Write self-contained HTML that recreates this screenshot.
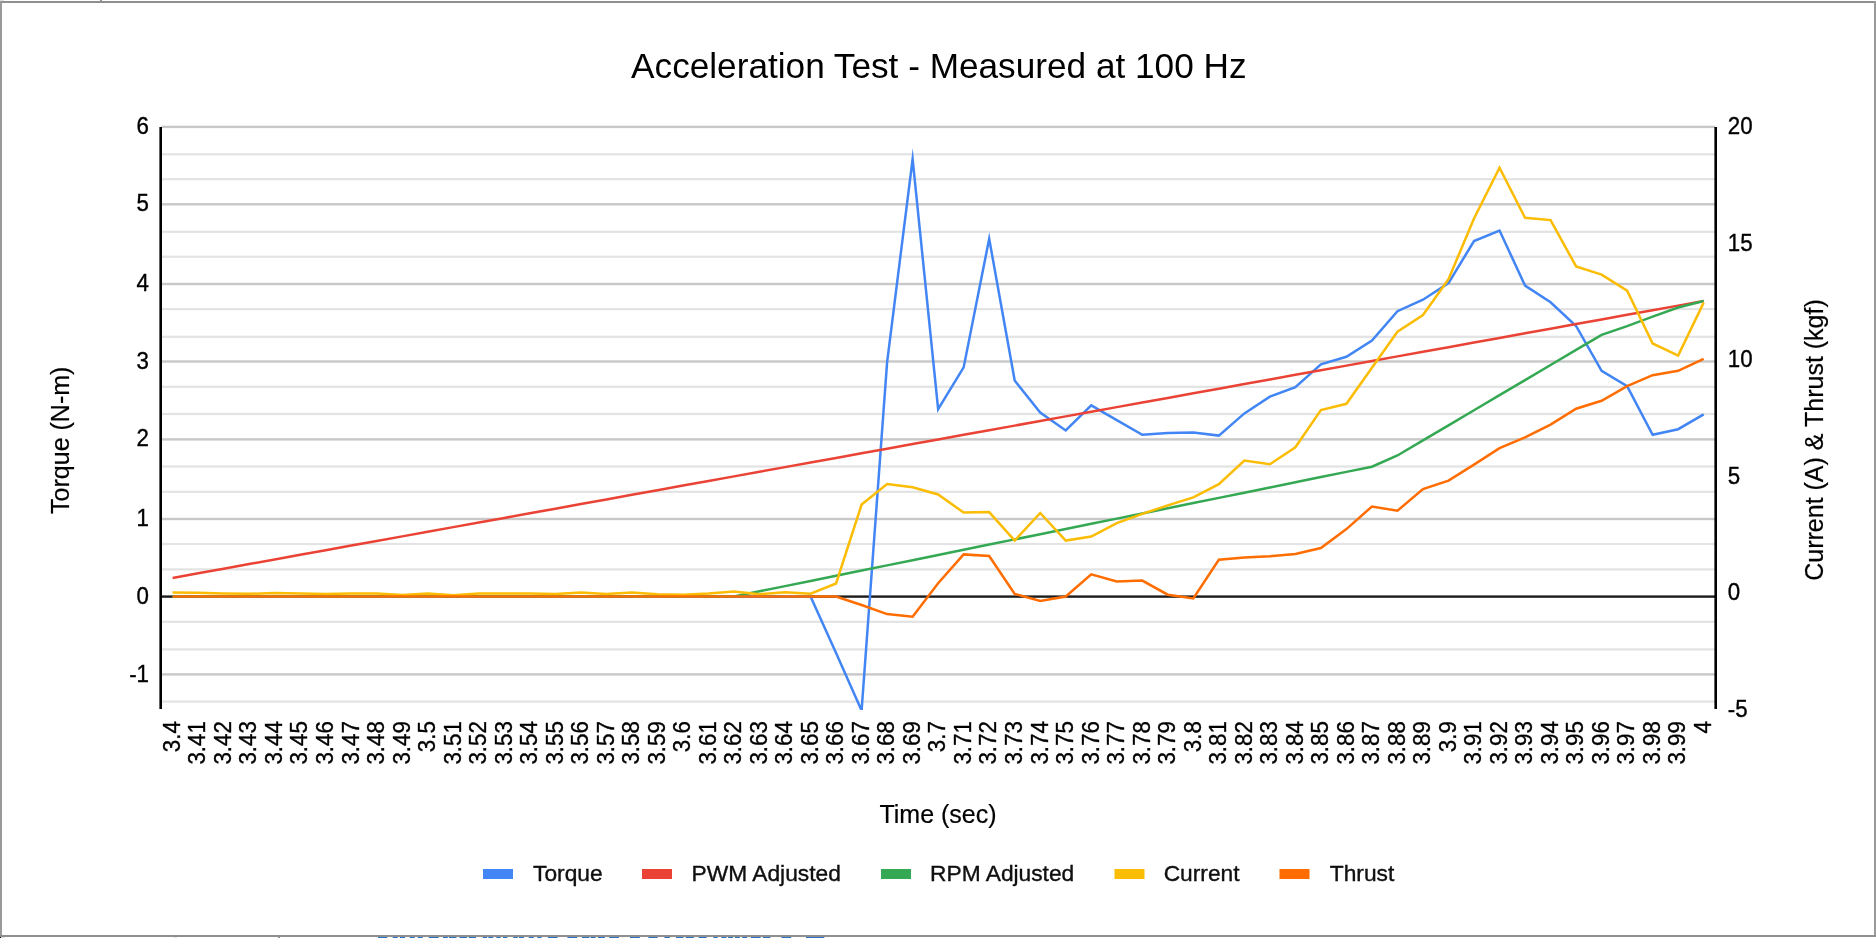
<!DOCTYPE html>
<html><head><meta charset="utf-8"><title>Acceleration Test - Measured at 100 Hz</title>
<style>
html,body{margin:0;padding:0;background:#fff;overflow:hidden}
svg{display:block;will-change:transform}
text{font-family:"Liberation Sans",sans-serif}
.b{stroke:currentColor;stroke-width:0.35px}
.b2{stroke:#000;stroke-width:0.2px}
</style></head><body>
<svg width="1876" height="938" viewBox="0 0 1876 938">
<rect x="0" y="0" width="1876" height="938" fill="#ffffff"/>

<rect x="161.5" y="153.20" width="1553.5" height="2.2" fill="#e3e3e3"/>
<rect x="161.5" y="178.10" width="1553.5" height="2.2" fill="#e3e3e3"/>
<rect x="161.5" y="230.70" width="1553.5" height="2.2" fill="#e3e3e3"/>
<rect x="161.5" y="255.60" width="1553.5" height="2.2" fill="#e3e3e3"/>
<rect x="161.5" y="308.00" width="1553.5" height="2.2" fill="#e3e3e3"/>
<rect x="161.5" y="335.70" width="1553.5" height="2.2" fill="#e3e3e3"/>
<rect x="161.5" y="385.70" width="1553.5" height="2.2" fill="#e3e3e3"/>
<rect x="161.5" y="412.90" width="1553.5" height="2.2" fill="#e3e3e3"/>
<rect x="161.5" y="465.40" width="1553.5" height="2.2" fill="#e3e3e3"/>
<rect x="161.5" y="490.70" width="1553.5" height="2.2" fill="#e3e3e3"/>
<rect x="161.5" y="542.90" width="1553.5" height="2.2" fill="#e3e3e3"/>
<rect x="161.5" y="568.30" width="1553.5" height="2.2" fill="#e3e3e3"/>
<rect x="161.5" y="620.70" width="1553.5" height="2.2" fill="#e3e3e3"/>
<rect x="161.5" y="648.30" width="1553.5" height="2.2" fill="#e3e3e3"/>
<rect x="161.5" y="700.50" width="1553.5" height="2.2" fill="#e3e3e3"/>
<rect x="161.5" y="125.70" width="1553.5" height="2.4" fill="#c8c8c8"/>
<rect x="161.5" y="203.10" width="1553.5" height="2.4" fill="#c8c8c8"/>
<rect x="161.5" y="282.80" width="1553.5" height="2.4" fill="#c8c8c8"/>
<rect x="161.5" y="360.30" width="1553.5" height="2.4" fill="#c8c8c8"/>
<rect x="161.5" y="438.20" width="1553.5" height="2.4" fill="#c8c8c8"/>
<rect x="161.5" y="517.80" width="1553.5" height="2.4" fill="#c8c8c8"/>
<rect x="161.5" y="673.20" width="1553.5" height="2.4" fill="#c8c8c8"/>
<rect x="161.5" y="595.4" width="1553.5" height="2.4" fill="#1c1c1c"/>
<rect x="159.4" y="127.0" width="2.6" height="582.0" fill="#000"/>
<rect x="1714.4" y="127.0" width="2.6" height="582.0" fill="#000"/>
<defs><clipPath id="pa"><rect x="150" y="120" width="1580" height="590"/></clipPath></defs>
<g clip-path="url(#pa)" fill="none" stroke-width="2.5" stroke-linejoin="miter" stroke-miterlimit="10" stroke-linecap="butt">
<polyline stroke="#4285f4" points="172.60,596.50 198.12,596.50 223.64,596.50 249.15,596.50 274.67,596.50 300.19,596.50 325.71,596.50 351.23,596.50 376.74,596.50 402.26,596.50 427.78,596.50 453.30,596.50 478.82,596.50 504.33,596.50 529.85,596.50 555.37,596.50 580.89,596.50 606.41,596.50 631.92,596.50 657.44,596.50 682.96,596.50 708.48,596.50 734.00,596.50 759.51,596.50 785.03,596.50 810.55,596.50 836.07,653.00 861.59,710.50 887.10,362.30 912.62,159.00 938.14,409.20 963.66,367.40 989.18,238.80 1014.69,380.50 1040.21,412.50 1065.73,430.50 1091.25,405.40 1116.77,420.10 1142.28,434.80 1167.80,432.90 1193.32,432.40 1218.84,435.60 1244.36,413.40 1269.87,396.70 1295.39,387.20 1320.91,364.40 1346.43,356.80 1371.95,340.60 1397.46,311.20 1422.98,299.70 1448.50,283.10 1474.02,241.00 1499.54,230.50 1525.05,285.60 1550.57,302.30 1576.09,326.00 1601.61,370.80 1627.13,386.20 1652.64,434.80 1678.16,429.20 1703.68,414.30"/>
<polyline stroke="#ea4335" points="172.60,577.90 198.12,573.28 223.64,568.67 249.15,564.05 274.67,559.44 300.19,554.82 325.71,550.21 351.23,545.60 376.74,540.98 402.26,536.37 427.78,531.75 453.30,527.13 478.82,522.52 504.33,517.90 529.85,513.29 555.37,508.67 580.89,504.06 606.41,499.44 631.92,494.83 657.44,490.21 682.96,485.60 708.48,480.99 734.00,476.37 759.51,471.75 785.03,467.14 810.55,462.52 836.07,457.91 861.59,453.29 887.10,448.68 912.62,444.06 938.14,439.45 963.66,434.83 989.18,430.22 1014.69,425.61 1040.21,420.99 1065.73,416.38 1091.25,411.76 1116.77,407.14 1142.28,402.53 1167.80,397.91 1193.32,393.30 1218.84,388.68 1244.36,384.07 1269.87,379.45 1295.39,374.84 1320.91,370.23 1346.43,365.61 1371.95,361.00 1397.46,356.38 1422.98,351.76 1448.50,347.15 1474.02,342.53 1499.54,337.92 1525.05,333.31 1550.57,328.69 1576.09,324.08 1601.61,319.46 1627.13,314.84 1652.64,310.23 1678.16,305.62 1703.68,301.00"/>
<polyline stroke="#34a853" points="172.60,596.50 198.12,596.50 223.64,596.50 249.15,596.50 274.67,596.50 300.19,596.50 325.71,596.50 351.23,596.50 376.74,596.50 402.26,596.50 427.78,596.50 453.30,596.50 478.82,596.50 504.33,596.50 529.85,596.50 555.37,596.50 580.89,596.50 606.41,596.50 631.92,596.50 657.44,596.50 682.96,596.50 708.48,596.50 734.00,596.50 759.51,591.31 785.03,586.12 810.55,580.92 836.07,575.73 861.59,570.54 887.10,565.35 912.62,560.16 938.14,554.96 963.66,549.77 989.18,544.58 1014.69,539.39 1040.21,534.20 1065.73,529.00 1091.25,523.81 1116.77,518.62 1142.28,513.43 1167.80,508.24 1193.32,503.04 1218.84,497.85 1244.36,492.66 1269.87,487.47 1295.39,482.28 1320.91,477.08 1346.43,471.89 1371.95,466.70 1397.46,455.50 1422.98,440.41 1448.50,425.32 1474.02,410.24 1499.54,395.15 1525.05,380.06 1550.57,364.98 1576.09,349.89 1601.61,334.80 1627.13,326.10 1652.64,316.60 1678.16,307.50 1703.68,301.00"/>
<polyline stroke="#fbbc04" points="172.60,592.40 198.12,592.70 223.64,593.40 249.15,593.80 274.67,592.90 300.19,593.60 325.71,594.00 351.23,593.60 376.74,593.40 402.26,595.10 427.78,593.60 453.30,595.30 478.82,593.60 504.33,593.40 529.85,593.40 555.37,594.00 580.89,592.40 606.41,594.00 631.92,592.40 657.44,594.30 682.96,594.80 708.48,593.50 734.00,591.60 759.51,594.20 785.03,592.20 810.55,593.70 836.07,583.50 861.59,504.60 887.10,484.10 912.62,487.30 938.14,494.50 963.66,512.60 989.18,512.10 1014.69,540.60 1040.21,513.00 1065.73,540.60 1091.25,536.60 1116.77,523.20 1142.28,513.90 1167.80,505.40 1193.32,497.40 1218.84,484.10 1244.36,460.60 1269.87,464.30 1295.39,447.30 1320.91,410.00 1346.43,403.80 1371.95,367.80 1397.46,331.70 1422.98,315.00 1448.50,279.20 1474.02,218.50 1499.54,167.70 1525.05,217.80 1550.57,220.10 1576.09,266.40 1601.61,274.60 1627.13,290.70 1652.64,343.50 1678.16,355.60 1703.68,302.60"/>
<polyline stroke="#ff6d01" points="172.60,596.50 198.12,596.50 223.64,596.50 249.15,596.50 274.67,596.50 300.19,596.50 325.71,596.50 351.23,596.50 376.74,596.50 402.26,596.50 427.78,596.50 453.30,596.50 478.82,596.50 504.33,596.50 529.85,596.50 555.37,596.50 580.89,596.50 606.41,596.50 631.92,596.50 657.44,596.50 682.96,596.50 708.48,596.50 734.00,596.50 759.51,596.50 785.03,596.50 810.55,596.50 836.07,596.50 861.59,605.00 887.10,614.10 912.62,616.80 938.14,583.20 963.66,554.40 989.18,556.00 1014.69,593.90 1040.21,601.00 1065.73,596.50 1091.25,574.40 1116.77,581.40 1142.28,580.60 1167.80,594.70 1193.32,598.40 1218.84,559.80 1244.36,557.40 1269.87,556.20 1295.39,553.90 1320.91,548.00 1346.43,529.10 1371.95,506.50 1397.46,510.70 1422.98,489.10 1448.50,480.60 1474.02,464.60 1499.54,448.10 1525.05,437.40 1550.57,424.60 1576.09,408.70 1601.61,400.80 1627.13,386.20 1652.64,375.20 1678.16,370.80 1703.68,358.80"/>
</g>
<text x="938.8" y="77.7" text-anchor="middle" font-size="35.2" fill="#000">Acceleration Test - Measured at 100 Hz</text>
<text transform="translate(149.0,133.60) scale(0.98,1.03)" text-anchor="end" font-size="22.75" fill="#000" class="b">6</text>
<text transform="translate(149.0,211.40) scale(0.98,1.03)" text-anchor="end" font-size="22.75" fill="#000" class="b">5</text>
<text transform="translate(149.0,291.10) scale(0.98,1.03)" text-anchor="end" font-size="22.75" fill="#000" class="b">4</text>
<text transform="translate(149.0,368.60) scale(0.98,1.03)" text-anchor="end" font-size="22.75" fill="#000" class="b">3</text>
<text transform="translate(149.0,446.30) scale(0.98,1.03)" text-anchor="end" font-size="22.75" fill="#000" class="b">2</text>
<text transform="translate(149.0,526.10) scale(0.98,1.03)" text-anchor="end" font-size="22.75" fill="#000" class="b">1</text>
<text transform="translate(149.0,603.60) scale(0.98,1.03)" text-anchor="end" font-size="22.75" fill="#000" class="b">0</text>
<text transform="translate(149.0,681.50) scale(0.98,1.03)" text-anchor="end" font-size="22.75" fill="#000" class="b">-1</text>
<text transform="translate(1727.8,134.30) scale(0.98,1.03)" font-size="22.75" fill="#000" class="b">20</text>
<text transform="translate(1727.8,250.80) scale(0.98,1.03)" font-size="22.75" fill="#000" class="b">15</text>
<text transform="translate(1727.8,367.20) scale(0.98,1.03)" font-size="22.75" fill="#000" class="b">10</text>
<text transform="translate(1727.8,483.70) scale(0.98,1.03)" font-size="22.75" fill="#000" class="b">5</text>
<text transform="translate(1727.8,600.20) scale(0.98,1.03)" font-size="22.75" fill="#000" class="b">0</text>
<text transform="translate(1727.8,716.60) scale(0.98,1.03)" font-size="22.75" fill="#000" class="b">-5</text>
<text transform="translate(179.90,721.2) rotate(-90) scale(0.98,1.03)" text-anchor="end" font-size="22.75" fill="#000" class="b">3.4</text>
<text transform="translate(205.42,721.2) rotate(-90) scale(0.98,1.03)" text-anchor="end" font-size="22.75" fill="#000" class="b">3.41</text>
<text transform="translate(230.94,721.2) rotate(-90) scale(0.98,1.03)" text-anchor="end" font-size="22.75" fill="#000" class="b">3.42</text>
<text transform="translate(256.45,721.2) rotate(-90) scale(0.98,1.03)" text-anchor="end" font-size="22.75" fill="#000" class="b">3.43</text>
<text transform="translate(281.97,721.2) rotate(-90) scale(0.98,1.03)" text-anchor="end" font-size="22.75" fill="#000" class="b">3.44</text>
<text transform="translate(307.49,721.2) rotate(-90) scale(0.98,1.03)" text-anchor="end" font-size="22.75" fill="#000" class="b">3.45</text>
<text transform="translate(333.01,721.2) rotate(-90) scale(0.98,1.03)" text-anchor="end" font-size="22.75" fill="#000" class="b">3.46</text>
<text transform="translate(358.53,721.2) rotate(-90) scale(0.98,1.03)" text-anchor="end" font-size="22.75" fill="#000" class="b">3.47</text>
<text transform="translate(384.04,721.2) rotate(-90) scale(0.98,1.03)" text-anchor="end" font-size="22.75" fill="#000" class="b">3.48</text>
<text transform="translate(409.56,721.2) rotate(-90) scale(0.98,1.03)" text-anchor="end" font-size="22.75" fill="#000" class="b">3.49</text>
<text transform="translate(435.08,721.2) rotate(-90) scale(0.98,1.03)" text-anchor="end" font-size="22.75" fill="#000" class="b">3.5</text>
<text transform="translate(460.60,721.2) rotate(-90) scale(0.98,1.03)" text-anchor="end" font-size="22.75" fill="#000" class="b">3.51</text>
<text transform="translate(486.12,721.2) rotate(-90) scale(0.98,1.03)" text-anchor="end" font-size="22.75" fill="#000" class="b">3.52</text>
<text transform="translate(511.63,721.2) rotate(-90) scale(0.98,1.03)" text-anchor="end" font-size="22.75" fill="#000" class="b">3.53</text>
<text transform="translate(537.15,721.2) rotate(-90) scale(0.98,1.03)" text-anchor="end" font-size="22.75" fill="#000" class="b">3.54</text>
<text transform="translate(562.67,721.2) rotate(-90) scale(0.98,1.03)" text-anchor="end" font-size="22.75" fill="#000" class="b">3.55</text>
<text transform="translate(588.19,721.2) rotate(-90) scale(0.98,1.03)" text-anchor="end" font-size="22.75" fill="#000" class="b">3.56</text>
<text transform="translate(613.71,721.2) rotate(-90) scale(0.98,1.03)" text-anchor="end" font-size="22.75" fill="#000" class="b">3.57</text>
<text transform="translate(639.22,721.2) rotate(-90) scale(0.98,1.03)" text-anchor="end" font-size="22.75" fill="#000" class="b">3.58</text>
<text transform="translate(664.74,721.2) rotate(-90) scale(0.98,1.03)" text-anchor="end" font-size="22.75" fill="#000" class="b">3.59</text>
<text transform="translate(690.26,721.2) rotate(-90) scale(0.98,1.03)" text-anchor="end" font-size="22.75" fill="#000" class="b">3.6</text>
<text transform="translate(715.78,721.2) rotate(-90) scale(0.98,1.03)" text-anchor="end" font-size="22.75" fill="#000" class="b">3.61</text>
<text transform="translate(741.30,721.2) rotate(-90) scale(0.98,1.03)" text-anchor="end" font-size="22.75" fill="#000" class="b">3.62</text>
<text transform="translate(766.81,721.2) rotate(-90) scale(0.98,1.03)" text-anchor="end" font-size="22.75" fill="#000" class="b">3.63</text>
<text transform="translate(792.33,721.2) rotate(-90) scale(0.98,1.03)" text-anchor="end" font-size="22.75" fill="#000" class="b">3.64</text>
<text transform="translate(817.85,721.2) rotate(-90) scale(0.98,1.03)" text-anchor="end" font-size="22.75" fill="#000" class="b">3.65</text>
<text transform="translate(843.37,721.2) rotate(-90) scale(0.98,1.03)" text-anchor="end" font-size="22.75" fill="#000" class="b">3.66</text>
<text transform="translate(868.89,721.2) rotate(-90) scale(0.98,1.03)" text-anchor="end" font-size="22.75" fill="#000" class="b">3.67</text>
<text transform="translate(894.40,721.2) rotate(-90) scale(0.98,1.03)" text-anchor="end" font-size="22.75" fill="#000" class="b">3.68</text>
<text transform="translate(919.92,721.2) rotate(-90) scale(0.98,1.03)" text-anchor="end" font-size="22.75" fill="#000" class="b">3.69</text>
<text transform="translate(945.44,721.2) rotate(-90) scale(0.98,1.03)" text-anchor="end" font-size="22.75" fill="#000" class="b">3.7</text>
<text transform="translate(970.96,721.2) rotate(-90) scale(0.98,1.03)" text-anchor="end" font-size="22.75" fill="#000" class="b">3.71</text>
<text transform="translate(996.48,721.2) rotate(-90) scale(0.98,1.03)" text-anchor="end" font-size="22.75" fill="#000" class="b">3.72</text>
<text transform="translate(1021.99,721.2) rotate(-90) scale(0.98,1.03)" text-anchor="end" font-size="22.75" fill="#000" class="b">3.73</text>
<text transform="translate(1047.51,721.2) rotate(-90) scale(0.98,1.03)" text-anchor="end" font-size="22.75" fill="#000" class="b">3.74</text>
<text transform="translate(1073.03,721.2) rotate(-90) scale(0.98,1.03)" text-anchor="end" font-size="22.75" fill="#000" class="b">3.75</text>
<text transform="translate(1098.55,721.2) rotate(-90) scale(0.98,1.03)" text-anchor="end" font-size="22.75" fill="#000" class="b">3.76</text>
<text transform="translate(1124.07,721.2) rotate(-90) scale(0.98,1.03)" text-anchor="end" font-size="22.75" fill="#000" class="b">3.77</text>
<text transform="translate(1149.58,721.2) rotate(-90) scale(0.98,1.03)" text-anchor="end" font-size="22.75" fill="#000" class="b">3.78</text>
<text transform="translate(1175.10,721.2) rotate(-90) scale(0.98,1.03)" text-anchor="end" font-size="22.75" fill="#000" class="b">3.79</text>
<text transform="translate(1200.62,721.2) rotate(-90) scale(0.98,1.03)" text-anchor="end" font-size="22.75" fill="#000" class="b">3.8</text>
<text transform="translate(1226.14,721.2) rotate(-90) scale(0.98,1.03)" text-anchor="end" font-size="22.75" fill="#000" class="b">3.81</text>
<text transform="translate(1251.66,721.2) rotate(-90) scale(0.98,1.03)" text-anchor="end" font-size="22.75" fill="#000" class="b">3.82</text>
<text transform="translate(1277.17,721.2) rotate(-90) scale(0.98,1.03)" text-anchor="end" font-size="22.75" fill="#000" class="b">3.83</text>
<text transform="translate(1302.69,721.2) rotate(-90) scale(0.98,1.03)" text-anchor="end" font-size="22.75" fill="#000" class="b">3.84</text>
<text transform="translate(1328.21,721.2) rotate(-90) scale(0.98,1.03)" text-anchor="end" font-size="22.75" fill="#000" class="b">3.85</text>
<text transform="translate(1353.73,721.2) rotate(-90) scale(0.98,1.03)" text-anchor="end" font-size="22.75" fill="#000" class="b">3.86</text>
<text transform="translate(1379.25,721.2) rotate(-90) scale(0.98,1.03)" text-anchor="end" font-size="22.75" fill="#000" class="b">3.87</text>
<text transform="translate(1404.76,721.2) rotate(-90) scale(0.98,1.03)" text-anchor="end" font-size="22.75" fill="#000" class="b">3.88</text>
<text transform="translate(1430.28,721.2) rotate(-90) scale(0.98,1.03)" text-anchor="end" font-size="22.75" fill="#000" class="b">3.89</text>
<text transform="translate(1455.80,721.2) rotate(-90) scale(0.98,1.03)" text-anchor="end" font-size="22.75" fill="#000" class="b">3.9</text>
<text transform="translate(1481.32,721.2) rotate(-90) scale(0.98,1.03)" text-anchor="end" font-size="22.75" fill="#000" class="b">3.91</text>
<text transform="translate(1506.84,721.2) rotate(-90) scale(0.98,1.03)" text-anchor="end" font-size="22.75" fill="#000" class="b">3.92</text>
<text transform="translate(1532.35,721.2) rotate(-90) scale(0.98,1.03)" text-anchor="end" font-size="22.75" fill="#000" class="b">3.93</text>
<text transform="translate(1557.87,721.2) rotate(-90) scale(0.98,1.03)" text-anchor="end" font-size="22.75" fill="#000" class="b">3.94</text>
<text transform="translate(1583.39,721.2) rotate(-90) scale(0.98,1.03)" text-anchor="end" font-size="22.75" fill="#000" class="b">3.95</text>
<text transform="translate(1608.91,721.2) rotate(-90) scale(0.98,1.03)" text-anchor="end" font-size="22.75" fill="#000" class="b">3.96</text>
<text transform="translate(1634.43,721.2) rotate(-90) scale(0.98,1.03)" text-anchor="end" font-size="22.75" fill="#000" class="b">3.97</text>
<text transform="translate(1659.94,721.2) rotate(-90) scale(0.98,1.03)" text-anchor="end" font-size="22.75" fill="#000" class="b">3.98</text>
<text transform="translate(1685.46,721.2) rotate(-90) scale(0.98,1.03)" text-anchor="end" font-size="22.75" fill="#000" class="b">3.99</text>
<text transform="translate(1710.98,721.2) rotate(-90) scale(0.98,1.03)" text-anchor="end" font-size="22.75" fill="#000" class="b">4</text>
<text x="938" y="823" text-anchor="middle" font-size="25" fill="#000" class="b2">Time (sec)</text>
<text transform="translate(69.0,440.25) rotate(-90)" text-anchor="middle" font-size="25" fill="#000" class="b2">Torque (N-m)</text>
<text transform="translate(1823.0,440.0) rotate(-90)" text-anchor="middle" font-size="25" fill="#000" class="b2">Current (A) &amp; Thrust (kgf)</text>
<rect x="483.0" y="869" width="30" height="10" fill="#4285f4"/>
<text x="533.1" y="881" font-size="22.75" fill="#111" class="b">Torque</text>
<rect x="642.0" y="869" width="30" height="10" fill="#ea4335"/>
<text x="691.6" y="881" font-size="22.75" fill="#111" class="b">PWM Adjusted</text>
<rect x="881.0" y="869" width="30" height="10" fill="#34a853"/>
<text x="930.1" y="881" font-size="22.75" fill="#111" class="b">RPM Adjusted</text>
<rect x="1114.5" y="869" width="30" height="10" fill="#fbbc04"/>
<text x="1163.7" y="881" font-size="22.75" fill="#111" class="b">Current</text>
<rect x="1279.5" y="869" width="30" height="10" fill="#ff6d01"/>
<text x="1329.8" y="881" font-size="22.75" fill="#111" class="b">Thrust</text>
<rect x="0" y="1" width="1876" height="2" fill="#8f8f8f"/>
<rect x="0" y="1" width="2" height="936" fill="#9a9a9a"/>
<rect x="1874" y="1" width="2" height="936" fill="#999999"/>
<rect x="0" y="935" width="1876" height="2" fill="#8f8f8f"/>
<rect x="100" y="0" width="2" height="1" fill="#8f8f8f"/>
<rect x="278" y="937" width="2" height="1" fill="#8f8f8f"/>
<rect x="0" y="937" width="1" height="1" fill="#000"/>
<rect x="1" y="937" width="4" height="1" fill="#dcdcdc"/>
<rect x="0" y="0" width="4" height="1" fill="#e0e0e0"/>
<rect x="174" y="937" width="3" height="1" fill="#e2e2e2"/>
<rect x="378.0" y="937" width="9.2" height="1" fill="#2a72c4"/>
<rect x="392.7" y="937" width="4.9" height="1" fill="#2a72c4"/>
<rect x="400.0" y="937" width="5.0" height="1" fill="#2a72c4"/>
<rect x="409.8" y="937" width="4.9" height="1" fill="#2a72c4"/>
<rect x="417.8" y="937" width="4.9" height="1" fill="#2a72c4"/>
<rect x="428.8" y="937" width="9.9" height="1" fill="#2a72c4"/>
<rect x="443.0" y="937" width="4.8" height="1" fill="#2a72c4"/>
<rect x="449.0" y="937" width="7.4" height="1" fill="#2a72c4"/>
<rect x="459.5" y="937" width="7.3" height="1" fill="#2a72c4"/>
<rect x="468.7" y="937" width="7.3" height="1" fill="#2a72c4"/>
<rect x="482.8" y="937" width="4.3" height="1" fill="#2a72c4"/>
<rect x="488.3" y="937" width="4.9" height="1" fill="#2a72c4"/>
<rect x="496.3" y="937" width="4.3" height="1" fill="#2a72c4"/>
<rect x="503.0" y="937" width="4.3" height="1" fill="#2a72c4"/>
<rect x="513.4" y="937" width="4.3" height="1" fill="#2a72c4"/>
<rect x="519.0" y="937" width="4.9" height="1" fill="#2a72c4"/>
<rect x="528.8" y="937" width="4.9" height="1" fill="#2a72c4"/>
<rect x="537.3" y="937" width="4.3" height="1" fill="#2a72c4"/>
<rect x="547.8" y="937" width="9.8" height="1" fill="#2a72c4"/>
<rect x="567.4" y="937" width="9.8" height="1" fill="#2a72c4"/>
<rect x="582.0" y="937" width="7.4" height="1" fill="#2a72c4"/>
<rect x="590.7" y="937" width="4.9" height="1" fill="#2a72c4"/>
<rect x="598.0" y="937" width="6.9" height="1" fill="#2a72c4"/>
<rect x="609.2" y="937" width="9.8" height="1" fill="#2a72c4"/>
<rect x="630.0" y="937" width="9.8" height="1" fill="#2a72c4"/>
<rect x="648.4" y="937" width="9.2" height="1" fill="#2a72c4"/>
<rect x="664.4" y="937" width="5.5" height="1" fill="#2a72c4"/>
<rect x="676.0" y="937" width="7.4" height="1" fill="#2a72c4"/>
<rect x="685.8" y="937" width="8.0" height="1" fill="#2a72c4"/>
<rect x="698.7" y="937" width="8.0" height="1" fill="#2a72c4"/>
<rect x="713.4" y="937" width="4.3" height="1" fill="#2a72c4"/>
<rect x="721.4" y="937" width="4.9" height="1" fill="#2a72c4"/>
<rect x="728.1" y="937" width="4.9" height="1" fill="#2a72c4"/>
<rect x="734.9" y="937" width="4.9" height="1" fill="#2a72c4"/>
<rect x="742.2" y="937" width="4.9" height="1" fill="#2a72c4"/>
<rect x="750.8" y="937" width="9.8" height="1" fill="#2a72c4"/>
<rect x="763.0" y="937" width="7.4" height="1" fill="#2a72c4"/>
<rect x="781.4" y="937" width="9.8" height="1" fill="#2a72c4"/>
<rect x="806.0" y="937" width="18.3" height="1" fill="#2a72c4"/>
</svg></body></html>
